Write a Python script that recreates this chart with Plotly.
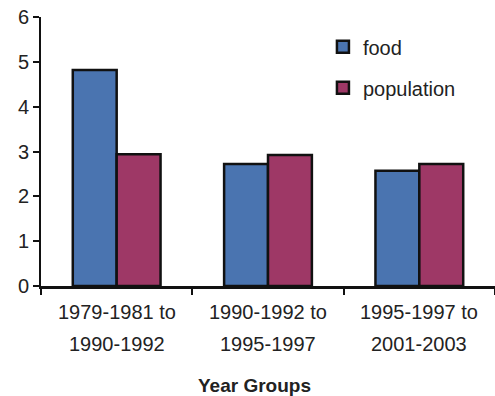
import plotly.graph_objects as go

# Growth rates by period, food production vs population
categories = ["1979-1981 to 1990-1992", "1990-1992 to 1995-1997", "1995-1997 to 2001-2003"]
label_line1 = ["1979-1981 to", "1990-1992 to", "1995-1997 to"]
label_line2 = ["1990-1992", "1995-1997", "2001-2003"]
food = [4.82, 2.72, 2.57]
population = [2.94, 2.92, 2.72]
y_ticks = [0, 1, 2, 3, 4, 5, 6]

FONT = "Liberation Sans, Arial, sans-serif"
TEXT = "#222222"

fig = go.Figure()
fig.add_trace(go.Bar(
    x=categories, y=food, name="food", legendgroup="food",
    marker=dict(color="#4A74B0", line=dict(color="#111111", width=2.5)),
))
fig.add_trace(go.Bar(
    x=categories, y=population, name="population", legendgroup="population",
    marker=dict(color="#9E3866", line=dict(color="#111111", width=2.5)),
))

# two-line category labels under the axis
for cat, l1, l2 in zip(categories, label_line1, label_line2):
    fig.add_annotation(x=cat, y=0, xref="x", yref="paper", text=l1, showarrow=False,
                       yanchor="middle", yshift=-26, font=dict(family=FONT, size=20, color=TEXT))
    fig.add_annotation(x=cat, y=0, xref="x", yref="paper", text=l2, showarrow=False,
                       yanchor="middle", yshift=-58, font=dict(family=FONT, size=20, color=TEXT))

# axis title, set slightly left of the plot centre
fig.add_annotation(x=(254 - 41) / 454, y=0, xref="paper", yref="paper", text="<b>Year Groups</b>",
                   showarrow=False, yanchor="middle", yshift=-99,
                   font=dict(family=FONT, size=19, color=TEXT))

fig.update_layout(
    width=495, height=396,
    margin=dict(l=41, r=0, t=17, b=110),
    plot_bgcolor="white", paper_bgcolor="white",
    barmode="group", bargap=0.42, bargroupgap=0,
    font=dict(family=FONT, size=20, color=TEXT),
    showlegend=True,
    legend=dict(
        x=0.621, y=0.962, xanchor="left", yanchor="top",
        traceorder="grouped", tracegroupgap=12,
        font=dict(family=FONT, size=20, color=TEXT),
        bgcolor="rgba(0,0,0,0)",
    ),
    xaxis=dict(
        showticklabels=False, showgrid=False, zeroline=False,
        showline=True, linecolor="#111111", linewidth=3,
        ticks="outside", tickson="boundaries", ticklen=6, tickwidth=1.5, tickcolor="#111111",
    ),
    yaxis=dict(
        range=[0, 6], tickvals=y_ticks, showgrid=False, zeroline=False,
        showline=True, linecolor="#111111", linewidth=2,
        ticks="outside", ticklen=6, tickwidth=1.5, tickcolor="#111111",
        tickfont=dict(family=FONT, size=20, color=TEXT),
    ),
)

fig.write_html("out.html")
